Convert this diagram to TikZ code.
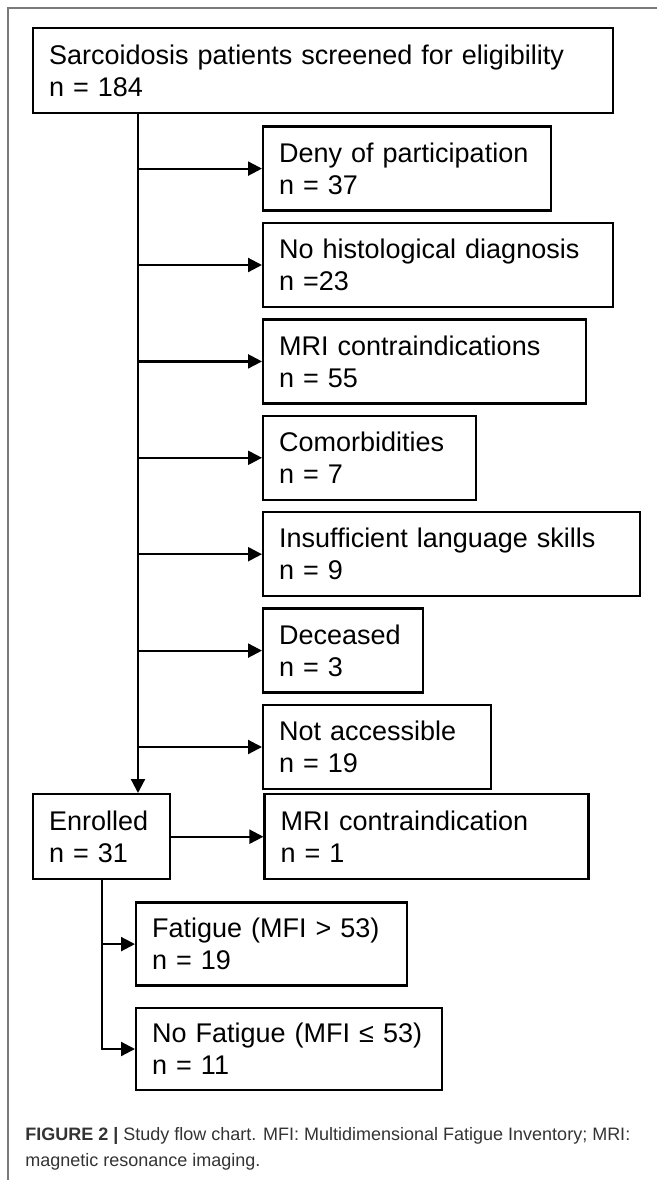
\documentclass[tikz,border=0pt]{standalone}
\usepackage{fontspec}
\setmainfont{Liberation Sans}
\usepackage{xcolor}
\definecolor{flowedge}{HTML}{7A7A7A}
\definecolor{flowcap}{HTML}{333333}
\usepackage{tikz}
\usetikzlibrary{arrows.meta,positioning}
\tikzset{
  flowbox/.style={draw,line width=1.2pt,anchor=north west,align=left,inner xsep=8pt,inner ysep=0pt,minimum height=42pt,font=\fontsize{13.5}{16}\selectfont},
  flowarrow/.style={-{Triangle[length=7pt,width=7pt]},line width=1.1pt},
  frameline/.style={draw=flowedge,line width=0.8pt},
}

\begin{document}
\begin{tikzpicture}[x=0.5pt,y=-0.5pt]
\useasboundingbox (0,0) rectangle (657,1180);
 % outer frame
\draw[frameline] (657,8) -- (8,8) -- (8,1180);
 % screening and exclusions
\node[flowbox,text width=274pt,minimum height=42.5pt] (screened) at (32,27) {Sarcoidosis patients screened for eligibility\\n = 184};
\coordinate (trunk) at ([xshift=53pt]screened.south west);
\node[flowbox,text width=128pt,below right=5.5pt and 115pt of screened.south west] (deny) {Deny of participation\\n = 37};
\node[flowbox,text width=159pt,below right=5pt and 0pt of deny.south west] (nohisto) {No histological diagnosis\\n =23};
\node[flowbox,text width=145.5pt,below right=5pt and 0pt of nohisto.south west] (mrici) {MRI contraindications\\n = 55};
\node[flowbox,text width=90.5pt,below right=5pt and 0pt of mrici.south west] (comorb) {Comorbidities\\n = 7};
\node[flowbox,text width=172.5pt,below right=5pt and 0pt of comorb.south west] (language) {Insufficient language skills\\n = 9};
\node[flowbox,text width=64pt,below right=5pt and 0pt of language.south west] (deceased) {Deceased\\n = 3};
\node[flowbox,text width=98pt,below right=5pt and 0pt of deceased.south west] (noaccess) {Not accessible\\n = 19};
 % enrolled and fatigue groups
\node[flowbox,text width=52.5pt,minimum height=42.5pt] (enrolled) at (32,793) {Enrolled\\n = 31};
\node[flowbox,text width=146pt,minimum height=42.5pt,right=46pt of enrolled] (mrici1) {MRI contraindication\\n = 1};
\node[flowbox,text width=119.5pt,minimum height=41.5pt,below right=10.5pt and 51.5pt of enrolled.south west] (fatigue) {Fatigue (MFI > 53)\\n = 19};
\node[flowbox,text width=137pt,minimum height=41pt,below right=10pt and 0pt of fatigue.south west] (nofatigue) {No Fatigue (MFI ≤ 53)\\n = 11};
 % connectors
\draw[flowarrow] (trunk) -- (trunk |- enrolled.north);
\foreach \excl in {deny,nohisto,mrici,comorb,language,deceased,noaccess}
  \draw[flowarrow] (trunk |- \excl.west) -- (\excl.west);
\draw[flowarrow] (enrolled) -- (mrici1);
\draw[flowarrow] (enrolled.south) |- (fatigue.west);
\draw[flowarrow] (enrolled.south) |- (nofatigue.west);
 % caption
\node[anchor=north west,inner sep=0pt,align=left,text=flowcap,font=\fontsize{9}{13}\selectfont] (caption) at (25,1127) {\textbf{FIGURE 2 |} Study flow chart. MFI: Multidimensional Fatigue Inventory; MRI:\\magnetic resonance imaging.};
\end{tikzpicture}
\end{document}
